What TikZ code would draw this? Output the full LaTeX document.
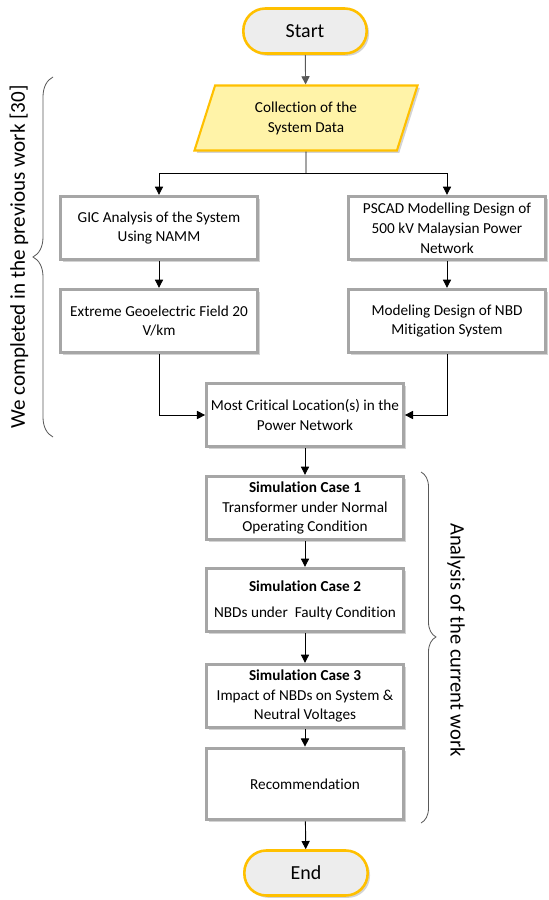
\documentclass[tikz,border=0pt]{standalone}
\usepackage{fontspec}
\setmainfont{Carlito}[Ligatures=NoCommon]
\usetikzlibrary{shapes.geometric,shadows,arrows.meta,decorations.pathreplacing}

\definecolor{termfill}{HTML}{EDEDED}
\definecolor{gold}{HTML}{FFC000}
\definecolor{datafill}{HTML}{FFF3A8}
\definecolor{boxline}{HTML}{A6A6A6}
\definecolor{arrgray}{HTML}{595959}

\tikzset{
  boxshadow/.style={drop shadow={shadow xshift=2pt,shadow yshift=-2pt,opacity=0.35}},
  terminal/.style={rectangle,rounded corners=0.66cm,draw=gold,fill=termfill,line width=2.2pt,
    minimum width=3.7cm,minimum height=1.35cm,font=\fontsize{17}{20}\selectfont,boxshadow},
  data/.style={trapezium,trapezium left angle=73,trapezium right angle=107,trapezium stretches=true,
    draw=gold,fill=datafill,line width=1.8pt,minimum width=6.7cm,minimum height=1.95cm,
    align=center,font=\fontsize{13}{17}\selectfont,boxshadow},
  process/.style={rectangle,draw=boxline,fill=white,line width=2.6pt,minimum width=5.9cm,
    minimum height=1.9cm,align=center,font=\fontsize{13}{17}\selectfont,boxshadow},
  arr/.style={-{Triangle[length=7pt,width=7pt]},line width=0.8pt},
  bracket/.style={decorate,line width=0.7pt,draw=arrgray},
}

\begin{document}
\begin{tikzpicture}[x=0.03cm,y=-0.03cm]
\useasboundingbox (0,0) rectangle (548,900);

\node[terminal] (start) at (305,31) {Start};
\node[data] (coll) at (306,118) {Collection of the\\System Data};
\coordinate (split) at (306,173);

% previous work
\node[process] (gic) at (159,228) {GIC Analysis of the System\\Using NAMM};
\node[process] (pscad) at (447,228) {PSCAD Modelling Design of\\500 kV Malaysian Power\\Network};
\node[process] (geo) at (159,321) {Extreme Geoelectric Field 20\\V/km};
\node[process] (nbd) at (447,321) {Modeling Design of NBD\\Mitigation System};
\node[process] (crit) at (305,415) {Most Critical Location(s) in the\\Power Network};

% current work
\node[process] (case1) at (305,508) {\textbf{Simulation Case 1}\\Transformer under Normal\\Operating Condition};
\node[process] (case2) at (305,600) {\textbf{Simulation Case 2}\\[5pt]NBDs under \ Faulty Condition};
\node[process] (case3) at (305,696) {\textbf{Simulation Case 3}\\Impact of NBDs on System \&\\Neutral Voltages};
\node[process,minimum height=2.15cm] (rec) at (305,784) {Recommendation};
\node[terminal] (end) at (306,873) {End};

\draw[arr,draw=arrgray] (start) -- (coll);
\draw[line width=0.8pt] (coll.south) -- (split);
\draw[arr] (split) -| (gic);
\draw[arr] (split) -| (pscad);
\draw[arr] (gic) -- (geo);
\draw[arr] (pscad) -- (nbd);
\draw[arr] (geo) |- (crit);
\draw[arr] (nbd) |- (crit);
\draw[arr] (crit) -- (case1);
\draw[arr] (case1) -- (case2);
\draw[arr] (case2) -- (case3);
\draw[arr] (case3) -- (rec);
\draw[arr] (rec) -- (end);

% braces
\coordinate (prevtop) at (53,77);
\coordinate (prevbot) at (53,437);
\draw[bracket,decoration={brace,amplitude=0.6cm}] (prevbot) -- (prevtop);
\node[rotate=90,font=\fontsize{18}{20}\selectfont] (prevlabel) at (19,257) {We completed in the previous work [30]};

\coordinate (curtop) at (421,472);
\coordinate (curbot) at (421,823);
\draw[bracket,decoration={brace,amplitude=0.45cm,aspect=0.47}] (curtop) -- (curbot);
\node[rotate=-90,font=\fontsize{17.5}{20}\selectfont] (curlabel) at (456,640) {Analysis of the current work};
\end{tikzpicture}
\end{document}
